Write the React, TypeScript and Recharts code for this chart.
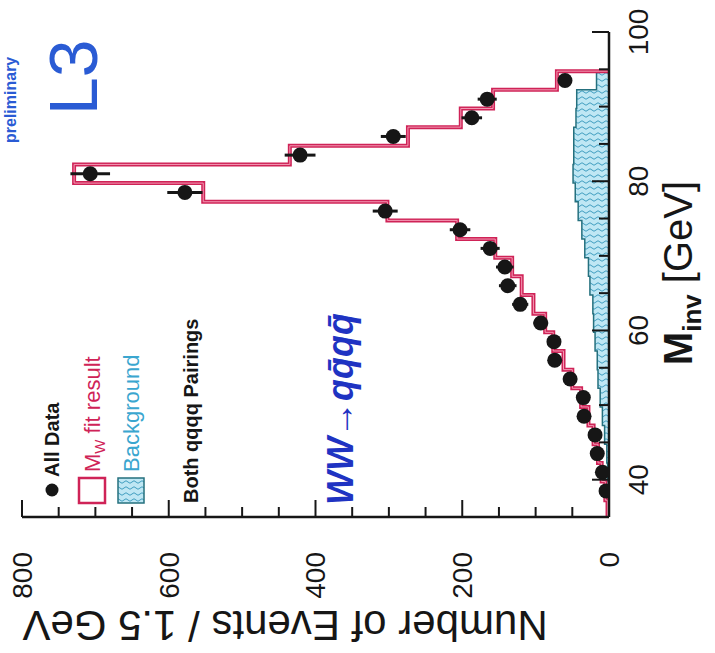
import React from "react"
import { ComposedChart, XAxis, YAxis, Line, Area, Scatter, ErrorBar } from "recharts"

// histogram bin edges, GeV
const binEdges = [
  34.75, 37.25, 39.75, 42.25, 44.75, 47.25, 49.75, 52.25, 54.75, 57.25, 59.75, 62.25, 64.75,
  67.25, 69.75, 72.25, 74.75, 77.25, 79.75, 82.25, 84.75, 87.25, 89.75, 92.25, 94.75,
]
// MW fit result, one value per bin
const fitValues = [
  2, 5, 10, 15, 21, 28, 38, 50, 62, 76, 87, 103, 119, 132, 155, 207, 302, 553, 729, 435, 274, 202,
  158, 71,
]
// background, one value per bin
const backgroundValues = [
  0, 1, 2, 3, 6, 9, 12, 15, 16, 19, 21, 22, 26, 28, 33, 37, 42, 46, 49, 48, 48, 45, 44, 17,
]
// data points (bin centres)
const dataMass = [
  38.5, 41, 43.5, 46, 48.5, 51, 53.5, 56, 58.5, 61, 63.5, 66, 68.5, 71, 73.5, 76, 78.5, 81, 83.5,
  86, 88.5, 91, 93.5,
]
const dataEvents = [
  4, 9, 16, 19, 34, 35, 53, 74, 75, 93, 121, 138, 142, 162, 203, 305, 578, 707, 421, 294, 187, 166,
  60,
]
const dataErrors = [2, 3, 4, 4, 6, 6, 7, 9, 9, 10, 11, 12, 12, 13, 14, 17, 24, 27, 21, 17, 14, 13, 8]

const massTicks = [40, 45, 50, 55, 60, 65, 70, 75, 80, 85, 90, 95, 100]
const eventTicks = [0, 50, 100, 150, 200, 250, 300, 350, 400, 450, 500, 550, 600, 650, 700, 750, 800]

const INK = "#161616"
const RED = "#cf2357"
const CYAN = "#3aa6cf"
const BLUE = "#2a5bd4"
const FONT = '"Liberation Sans", Arial, Helvetica, sans-serif'

const stepRows = (vals: number[]) =>
  binEdges.map((m, i) => ({ m, v: i < vals.length ? vals[i] : 0 }))

const fitRows = stepRows(fitValues)
const bgRows = stepRows(backgroundValues)
const points = dataMass.map((m, i) => ({ m, v: dataEvents[i], err: dataErrors[i] }))

const MassTick = (props: any) => {
  const { x, y, payload } = props
  const major = payload.value % 20 === 0
  const axisY = y - 19
  return (
    <g>
      <line x1={x} x2={x} y1={axisY} y2={axisY - (major ? 17 : 10)} stroke={INK} strokeWidth={2} />
      {major && (
        <text x={x} y={y} dy="0.71em" textAnchor="middle" fontSize={28} fill={INK} fontFamily={FONT}>
          {payload.value}
        </text>
      )}
    </g>
  )
}

const MassTickTop = (props: any) => {
  const { x, y, payload } = props
  const major = payload.value % 20 === 0
  return <line x1={x} x2={x} y1={y} y2={y + (major ? 17 : 10)} stroke={INK} strokeWidth={2} />
}

const EventTick = (props: any) => {
  const { x, y, payload } = props
  const major = payload.value % 200 === 0
  const axisX = x + 35
  return (
    <g>
      <line x1={axisX} x2={axisX + (major ? 17 : 10)} y1={y} y2={y} stroke={INK} strokeWidth={2} />
      {major && (
        <text x={x} y={y} dy="0.355em" textAnchor="end" fontSize={28} fill={INK} fontFamily={FONT}>
          {payload.value}
        </text>
      )}
    </g>
  )
}

const EventTickRight = (props: any) => {
  const { x, y, payload } = props
  const major = payload.value % 200 === 0
  return <line x1={x} x2={x - (major ? 17 : 10)} y1={y} y2={y} stroke={INK} strokeWidth={2} />
}

const Dot = (props: any) => <circle cx={props.cx} cy={props.cy} r={7.5} fill={INK} />

function Histogramme() {
  const axisLine = { stroke: INK, strokeWidth: 2.5 }
  return (
    <ComposedChart
      width={653}
      height={715}
      margin={{ top: 22, right: 32, bottom: 46, left: 76 }}
      style={{ fontFamily: FONT }}
    >
      <defs>
        <pattern id="hatch" width="6" height="8" patternUnits="userSpaceOnUse">
          <rect width="6" height="8" fill="#bfe7f4" />
          <path d="M3 0 Q0.5 2 3 4 T3 8" fill="none" stroke="#3f9dbf" strokeWidth="1" />
        </pattern>
      </defs>
      <XAxis
        dataKey="m"
        type="number"
        domain={[35, 100]}
        ticks={massTicks}
        interval={0}
        allowDataOverflow
        height={60}
        tickSize={0}
        tickMargin={19}
        tick={<MassTick />}
        axisLine={axisLine}
        tickLine={false}
      />
      <XAxis
        xAxisId="top"
        orientation="top"
        dataKey="m"
        type="number"
        domain={[35, 100]}
        ticks={massTicks}
        interval={0}
        height={0}
        tickSize={0}
        tickMargin={0}
        tick={<MassTickTop />}
        axisLine={axisLine}
        tickLine={false}
      />
      <YAxis
        type="number"
        domain={[0, 800]}
        ticks={eventTicks}
        interval={0}
        allowDataOverflow
        width={60}
        tickSize={0}
        tickMargin={35}
        tick={<EventTick />}
        axisLine={axisLine}
        tickLine={false}
      />
      <YAxis
        yAxisId="right"
        orientation="right"
        type="number"
        domain={[0, 800]}
        ticks={eventTicks}
        interval={0}
        width={0}
        tickSize={0}
        tickMargin={0}
        tick={<EventTickRight />}
        axisLine={axisLine}
        tickLine={false}
      />
      <Area
        data={bgRows}
        dataKey="v"
        type="stepAfter"
        fill="url(#hatch)"
        fillOpacity={1}
        stroke="#25707e"
        strokeWidth={1.5}
        isAnimationActive={false}
      />
      <Line
        data={fitRows}
        dataKey="v"
        type="stepAfter"
        stroke={RED}
        strokeWidth={4}
        dot={false}
        isAnimationActive={false}
      />
      <Line
        data={fitRows}
        dataKey="v"
        type="stepAfter"
        stroke="#f39ab4"
        strokeWidth={1}
        dot={false}
        isAnimationActive={false}
      />
      <Scatter data={points} dataKey="v" shape={<Dot />} isAnimationActive={false}>
        <ErrorBar dataKey="err" direction="y" width={0} stroke={INK} strokeWidth={3} />
      </Scatter>

      {/* axis titles */}
      <text
        x={28}
        y={285}
        transform="rotate(-90 28 285)"
        textAnchor="middle"
        dominantBaseline="central"
        fontSize={42}
        fill={INK}
        fontFamily={FONT}
      >
        Number of Events / 1.5 GeV
      </text>
      <text x={380} y={692} textAnchor="middle" fontSize={40} fill={INK} fontFamily={FONT}>
        <tspan fontWeight="bold">M</tspan>
        <tspan fontSize={26} dy={9} fontWeight="bold">inv</tspan>
        <tspan dy={-9}> [GeV]</tspan>
      </text>

      {/* legend */}
      <circle cx={163} cy={52} r={6.5} fill={INK} />
      <text x={176} y={59} fontSize={20} fontWeight="bold" fill={INK} fontFamily={FONT}>
        All Data
      </text>
      <rect x={150} y={79} width={25} height={26} fill="none" stroke={RED} strokeWidth={2.5} />
      <text x={181} y={100} fontSize={22} fill={RED} fontFamily={FONT}>
        M<tspan fontSize={15} dy={5}>W</tspan>
        <tspan dy={-5}> fit result</tspan>
      </text>
      <rect x={150} y={118} width={25} height={26} fill="url(#hatch)" stroke="#25707e" strokeWidth={1.5} />
      <text x={181} y={139} fontSize={22} fill={CYAN} fontFamily={FONT}>
        Background
      </text>
      <text x={150} y={198} fontSize={20} fontWeight="bold" fill={INK} fontFamily={FONT}>
        Both qqqq Pairings
      </text>

      {/* annotations */}
      <text x={148} y={353} fontSize={36} fontStyle="italic" fontWeight="bold" fill="#1f33c2" fontFamily={FONT}>
        WW→qq̄qq̄
      </text>
      <text x={538} y={97} fontSize={68} fill={BLUE} fontFamily={FONT}>
        L3
      </text>
      <text x={510} y={16} fontSize={16} fontWeight="bold" fill={BLUE} fontFamily={FONT}>
        preliminary
      </text>
    </ComposedChart>
  )
}

export default function App() {
  return (
    <div
      style={{
        position: "absolute",
        left: 0,
        top: 0,
        width: 715,
        height: 653,
        overflow: "hidden",
        background: "#fff",
      }}
    >
      <div
        style={{
          position: "absolute",
          left: 0,
          top: 0,
          width: 653,
          height: 715,
          transformOrigin: "0 0",
          transform: "translate(0px, 653px) rotate(-90deg)",
        }}
      >
        <Histogramme />
      </div>
    </div>
  )
}
